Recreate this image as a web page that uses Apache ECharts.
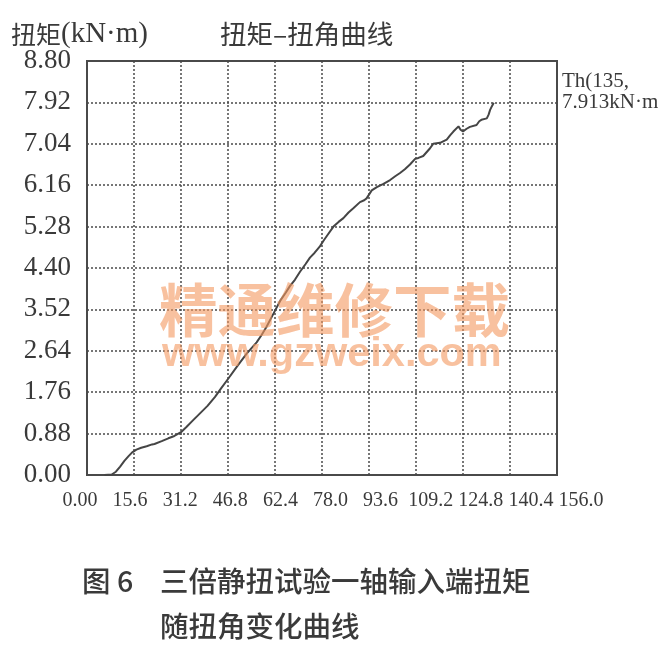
<!DOCTYPE html>
<html>
<head>
<meta charset="utf-8">
<script src="https://cdn.jsdelivr.net/npm/echarts@6/dist/echarts.min.js"></script>
<style>
html,body{margin:0;padding:0;background:#fff;}
#chart{width:668px;height:657px;}
</style>
</head>
<body>
<div id="chart"></div>
<script>
// ---- data ----
var angle = [5.8, 8.2, 9.6, 11.0, 12.4, 13.8, 15.0, 16.4, 18.0, 19.8, 21.6, 22.4, 23.0, 24.8, 27.0, 29.0, 31.2, 33.0, 35.0, 37.5, 40.0, 42.5, 44.5, 46.8, 49.7, 53.0, 56.3, 58.0, 59.6, 61.8, 64.1, 66.0, 67.4, 69.0, 70.7, 72.5, 74.0, 75.5, 77.3, 78.5, 79.6, 81.8, 83.5, 85.1, 86.8, 88.4, 90.6, 92.0, 92.8, 94.5, 96.2, 98.4, 100.6, 102.3, 103.9, 105.5, 107.2, 108.9, 110.0, 111.6, 113.8, 114.9, 117.2, 119.4, 120.5, 121.6, 123.3, 124.0, 124.8, 126.0, 127.1, 129.3, 130.2, 130.9, 132.7, 133.3, 133.8, 134.4, 135.0];
var torque = [0.00, 0.01, 0.07, 0.18, 0.30, 0.40, 0.48, 0.54, 0.58, 0.61, 0.65, 0.66, 0.62, 0.72, 0.78, 0.83, 0.91, 1.02, 1.15, 1.31, 1.47, 1.66, 1.84, 2.04, 2.30, 2.58, 2.82, 2.98, 3.15, 3.42, 3.70, 3.88, 4.02, 4.15, 4.32, 4.48, 4.62, 4.72, 4.86, 4.98, 5.08, 5.28, 5.38, 5.46, 5.58, 5.67, 5.80, 5.84, 5.88, 6.05, 6.12, 6.19, 6.27, 6.35, 6.42, 6.50, 6.60, 6.72, 6.74, 6.78, 6.94, 7.04, 7.06, 7.13, 7.22, 7.30, 7.41, 7.34, 7.30, 7.36, 7.40, 7.44, 7.52, 7.55, 7.58, 7.66, 7.76, 7.84, 7.913];
var xTickLabels = ['0.00', '15.6', '31.2', '46.8', '62.4', '78.0', '93.6', '109.2', '124.8', '140.4', '156.0'];
var yTickLabels = ['0.00', '0.88', '1.76', '2.64', '3.52', '4.40', '5.28', '6.16', '7.04', '7.92', '8.80'];
var xMax = 156, xStep = 15.6, yMax = 8.8, yStep = 0.88;
var yAxisTitleCjk = '扭矩';
var yAxisTitleUnit = '(kN·m)';
var chartTitle = '扭矩–扭角曲线';
var noteLines = ['Th(135,', '7.913kN·m'];
var captionLabel = '图 6';
var captionLine1 = '三倍静扭试验一轴输入端扭矩';
var captionLine2 = '随扭角变化曲线';
var watermark1 = '精通维修下载';
var watermark2 = 'www.gzweix.com';

var points = angle.map(function (a, i) { return [a, torque[i]]; });

var serif = '"Liberation Serif", "Noto Sans CJK SC", serif';
var cjk = '"Noto Sans CJK SC", sans-serif';
var txt = '#3a3a3a';
var gridDots = { color: '#4a4a4a', width: 1.5, type: [2, 2] };
var wmColor = 'rgba(243,152,95,0.6)';

var chart = echarts.init(document.getElementById('chart'), null, { renderer: 'canvas' });
chart.setOption({
  backgroundColor: '#ffffff',
  animation: false,
  grid: [
    { left: 87, top: 61, width: 470, height: 414, show: true, borderColor: '#4a4a4a', borderWidth: 2, backgroundColor: 'transparent' },
    { left: 80, top: 61, width: 501, height: 414, show: false }
  ],
  xAxis: [
    {
      gridIndex: 0, type: 'value', min: 0, max: xMax, interval: xStep,
      axisLine: { show: false }, axisTick: { show: false }, axisLabel: { show: false },
      splitLine: { show: true, showMinLine: false, showMaxLine: false, lineStyle: gridDots }
    },
    {
      gridIndex: 1, type: 'value', min: 0, max: xMax, interval: xStep,
      axisLine: { show: false }, axisTick: { show: false }, splitLine: { show: false },
      axisLabel: {
        show: true, margin: 16, color: txt, fontFamily: serif, fontSize: 20,
        formatter: function (v) { return xTickLabels[Math.round(v / xStep)]; }
      }
    }
  ],
  yAxis: [
    {
      gridIndex: 0, type: 'value', min: 0, max: yMax, interval: yStep,
      axisLine: { show: false }, axisTick: { show: false },
      axisLabel: {
        show: true, margin: 16, color: txt, fontFamily: serif, fontSize: 27,
        formatter: function (v) { return yTickLabels[Math.round(v / yStep)]; }
      },
      splitLine: { show: true, showMinLine: false, showMaxLine: false, lineStyle: gridDots }
    },
    { gridIndex: 1, type: 'value', min: 0, max: yMax, show: false }
  ],
  series: [{
    type: 'line', xAxisIndex: 0, yAxisIndex: 0, data: points,
    showSymbol: false, smooth: false,
    lineStyle: { color: '#454545', width: 2 }, z: 3
  }],
  graphic: [
    { type: 'text', left: 11, top: 20, style: {
      text: '{a|' + yAxisTitleCjk + '}{b|' + yAxisTitleUnit + '}',
      rich: {
        a: { fontFamily: cjk, fontSize: 25, fill: txt, color: txt },
        b: { fontFamily: serif, fontSize: 29, fill: txt, color: txt }
      }
    } },
    { type: 'text', left: 220, top: 21, style: { text: chartTitle, font: '26.5px ' + cjk, fill: txt } },
    { type: 'text', left: 562, top: 71, style: { text: noteLines[0], font: '21px ' + serif, fill: txt } },
    { type: 'text', left: 562, top: 92, style: { text: noteLines[1], font: '21px ' + serif, fill: txt } },
    { type: 'text', left: 82, top: 567, style: { text: captionLabel, font: '500 28.5px ' + cjk, fill: txt } },
    { type: 'text', left: 160, top: 567, style: { text: captionLine1, font: '500 28.5px ' + cjk, fill: txt } },
    { type: 'text', left: 160, top: 612, style: { text: captionLine2, font: '500 28.5px ' + cjk, fill: txt } },
    { type: 'text', left: 159, top: 281, z: 10, style: { text: watermark1, font: 'bold 58.5px ' + cjk, fill: wmColor } },
    { type: 'text', left: 162, top: 334, z: 10, style: { text: watermark2, font: 'bold 41.5px "Liberation Sans", Arial, sans-serif', fill: wmColor } }
  ]
});
</script>
</body>
</html>
